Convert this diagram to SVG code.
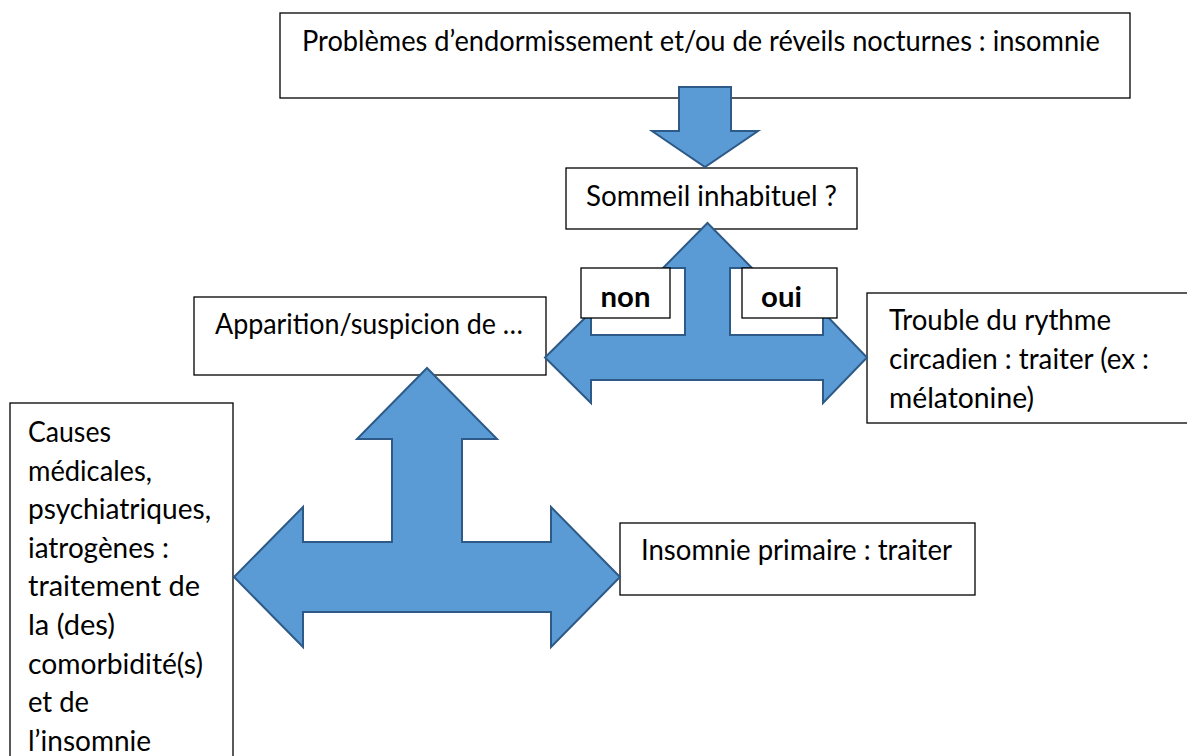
<svg xmlns="http://www.w3.org/2000/svg" width="1187" height="756" viewBox="0 0 1187 756">
<style>
.box{fill:#fff;stroke:#000;stroke-width:1.3}
.t{font-family:"Lato","Liberation Sans",sans-serif;font-size:29.3px;fill:#000}
.b{font-weight:bold}
.arrow{fill:#5B9BD5;stroke:#2E5A87;stroke-width:2;stroke-linejoin:miter}
</style>
<rect width="1187" height="756" fill="#fff"/>
<g id="node-top">
<rect class="box" x="280" y="13" width="850" height="85"/>
<text class="t" x="302" y="51" textLength="798" lengthAdjust="spacingAndGlyphs">Problèmes d’endormissement et/ou de réveils nocturnes : insomnie</text>
</g>
<g id="node-sommeil">
<rect class="box" x="566" y="168" width="291" height="61"/>
<text class="t" x="586" y="206" textLength="251" lengthAdjust="spacingAndGlyphs">Sommeil inhabituel ?</text>
</g>
<g id="node-apparition">
<rect class="box" x="194" y="297" width="352" height="78"/>
<text class="t" x="215" y="334" textLength="308" lengthAdjust="spacingAndGlyphs">Apparition/suspicion de …</text>
</g>
<g id="node-trouble">
<rect class="box" x="867" y="293" width="340" height="130"/>
<text class="t" x="889" y="330" textLength="222" lengthAdjust="spacingAndGlyphs">Trouble du rythme</text>
<text class="t" x="889" y="369" textLength="260" lengthAdjust="spacingAndGlyphs">circadien : traiter (ex :</text>
<text class="t" x="889" y="408" textLength="145" lengthAdjust="spacingAndGlyphs">mélatonine)</text>
</g>
<g id="node-primaire">
<rect class="box" x="620" y="523" width="355" height="72"/>
<text class="t" x="641" y="560" textLength="311" lengthAdjust="spacingAndGlyphs">Insomnie primaire : traiter</text>
</g>
<g id="node-causes">
<rect class="box" x="10" y="403" width="223" height="370"/>
<text class="t" x="28" y="442" textLength="83" lengthAdjust="spacingAndGlyphs">Causes</text>
<text class="t" x="28" y="480.6" textLength="124" lengthAdjust="spacingAndGlyphs">médicales,</text>
<text class="t" x="28" y="519.2" textLength="183" lengthAdjust="spacingAndGlyphs">psychiatriques,</text>
<text class="t" x="28" y="557.8" textLength="141" lengthAdjust="spacingAndGlyphs">iatrogènes :</text>
<text class="t" x="28" y="596.4" textLength="172" lengthAdjust="spacingAndGlyphs">traitement de</text>
<text class="t" x="28" y="635" textLength="87" lengthAdjust="spacingAndGlyphs">la (des)</text>
<text class="t" x="28" y="673.6" textLength="175" lengthAdjust="spacingAndGlyphs">comorbidité(s)</text>
<text class="t" x="28" y="712.2" textLength="61" lengthAdjust="spacingAndGlyphs">et de</text>
<text class="t" x="28" y="750.8" textLength="123" lengthAdjust="spacingAndGlyphs">l’insomnie</text>
</g>
<g id="connectors">
<polygon class="arrow" points="679,87 731,87 731,131 758,131 705,167 652,131 679,131"/>
<polygon class="arrow" points="707.5,223 752,268 730,268 730,335 823,335 823,312 867,357.5 823,403 823,380 591,380 591,403 545,357.5 591,312 591,335 685,335 685,268 663,268"/>
<polygon class="arrow" points="427,368 497,439 462,439 462,542 551,542 551,507 620,577 551,647 551,612 303,612 303,647 234,577 303,507 303,542 392,542 392,439 357,439"/>
</g>
<g id="label-non">
<rect class="box" x="581" y="268" width="89" height="50"/>
<text class="t b" x="625.5" y="307" text-anchor="middle">non</text>
</g>
<g id="label-oui">
<rect class="box" x="742" y="268" width="95" height="50"/>
<text class="t b" x="781.5" y="307" text-anchor="middle">oui</text>
</g>
</svg>
